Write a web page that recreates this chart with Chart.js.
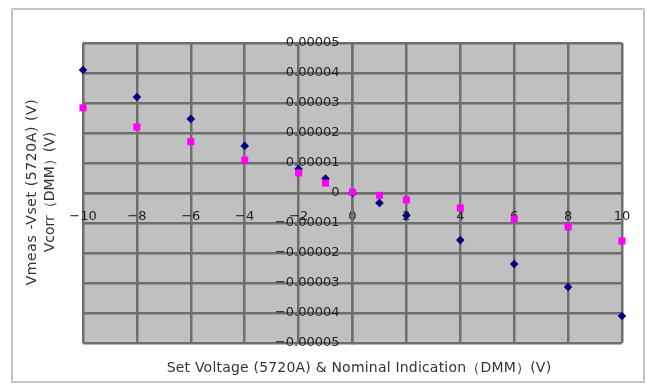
<!DOCTYPE html>
<html><head><meta charset="utf-8">
<script src="https://cdn.jsdelivr.net/npm/chart.js@4/dist/chart.umd.min.js"></script>
<style>html,body{margin:0;padding:0;background:#fff;overflow:hidden}</style>
</head><body>
<canvas id="c" width="649" height="385"></canvas>
<script>
// ---- data ----
const setVoltages = [-10, -8, -6, -4, -2, -1, 0, 1, 2, 4, 6, 8, 10];
const vmeasMinusVset = [4.1e-5, 3.2e-5, 2.47e-5, 1.57e-5, 0.8e-5, 0.48e-5, 0.0, -0.33e-5, -0.75e-5, -1.57e-5, -2.37e-5, -3.13e-5, -4.1e-5];
const vcorrDMM = [2.84e-5, 2.2e-5, 1.71e-5, 1.1e-5, 0.67e-5, 0.33e-5, 0.03e-5, -0.08e-5, -0.23e-5, -0.5e-5, -0.87e-5, -1.13e-5, -1.6e-5];
const xTickValues = [-10, -8, -6, -4, -2, 0, 2, 4, 6, 8, 10];
const yTickValues = [-5e-5, -4e-5, -3e-5, -2e-5, -1e-5, 0, 1e-5, 2e-5, 3e-5, 4e-5, 5e-5];
const xTitle = "Set Voltage (5720A) & Nominal Indication（DMM）(V)";
const yTitleLines = ["Vmeas -Vset (5720A) (V)", "Vcorr（DMM）(V)"];

const FONT = "'DejaVu Sans', sans-serif";

const frame = {
  id: 'frame',
  beforeDraw(chart) {
    const ctx = chart.ctx, a = chart.chartArea;
    ctx.save();
    ctx.fillStyle = '#fff';
    ctx.fillRect(0, 0, chart.width, chart.height);
    ctx.strokeStyle = '#c4c4c4';
    ctx.lineWidth = 2;
    ctx.strokeRect(12, 9, 632, 373);
    ctx.fillStyle = '#c0c0c0';
    ctx.fillRect(a.left, a.top, a.right - a.left, a.bottom - a.top);
    ctx.restore();
  },
  afterDraw(chart) {
    const ctx = chart.ctx;
    ctx.save();
    ctx.fillStyle = '#333';
    ctx.font = '14px ' + FONT;
    ctx.textAlign = 'center';
    ctx.textBaseline = 'middle';
    ctx.letterSpacing = '0.2px';
    ctx.fillText(xTitle, 359, 368);
    ctx.translate(0, 192);
    ctx.rotate(-Math.PI / 2);
    ctx.letterSpacing = '0.6px';
    ctx.fillText(yTitleLines[0], 0, 32);
    ctx.letterSpacing = '0px';
    ctx.fillText(yTitleLines[1], 0, 50);
    ctx.restore();
  }
};

new Chart(document.getElementById('c'), {
  type: 'scatter',
  data: {
    datasets: [
      {
        label: 'Vmeas-Vset',
        data: setVoltages.map((x, i) => ({ x, y: vmeasMinusVset[i] })),
        pointStyle: 'rectRot',
        pointRadius: 4.3,
        backgroundColor: '#000080',
        borderColor: '#000080',
        borderWidth: 0,
        clip: false,
        order: 1
      },
      {
        label: 'Vcorr',
        data: setVoltages.map((x, i) => ({ x, y: vcorrDMM[i] })),
        pointStyle: 'rect',
        pointRadius: 5,
        backgroundColor: '#ff00ff',
        borderColor: '#ff00ff',
        borderWidth: 0,
        clip: false,
        order: 0
      }
    ]
  },
  options: {
    responsive: false,
    devicePixelRatio: 1,
    animation: false,
    layout: { padding: { left: 83, top: 43, right: 27, bottom: 42 } },
    plugins: { legend: { display: false }, tooltip: { enabled: false } },
    scales: {
      x: {
        type: 'linear',
        min: -10, max: 10,
        position: { y: 0 },
        afterBuildTicks: s => { s.ticks = xTickValues.map(v => ({ value: v })); },
        grid: { color: '#6e6e6e', lineWidth: 2.5, drawTicks: false },
        border: { display: true, color: '#6e6e6e', width: 2.5 },
        ticks: {
          padding: 16,
          maxRotation: 0,
          autoSkip: false,
          color: '#222',
          font: { family: FONT, size: 13 },
          callback: v => String(v).replace('-', '\u2212')
        }
      },
      y: {
        type: 'linear',
        min: -5e-5, max: 5e-5,
        position: { x: 0 },
        afterBuildTicks: s => { s.ticks = yTickValues.map(v => ({ value: v })); },
        grid: { color: '#6e6e6e', lineWidth: 2.5, drawTicks: false },
        border: { display: true, color: '#6e6e6e', width: 2.5 },
        ticks: {
          autoSkip: false,
          color: '#222',
          font: { family: FONT, size: 13 },
          callback: v => (Math.abs(v) < 1e-12 ? '0' : v.toFixed(5).replace('-', '\u2212')) + '\u2002\u2002'
        }
      }
    }
  },
  plugins: [frame]
});
</script>
</body></html>
